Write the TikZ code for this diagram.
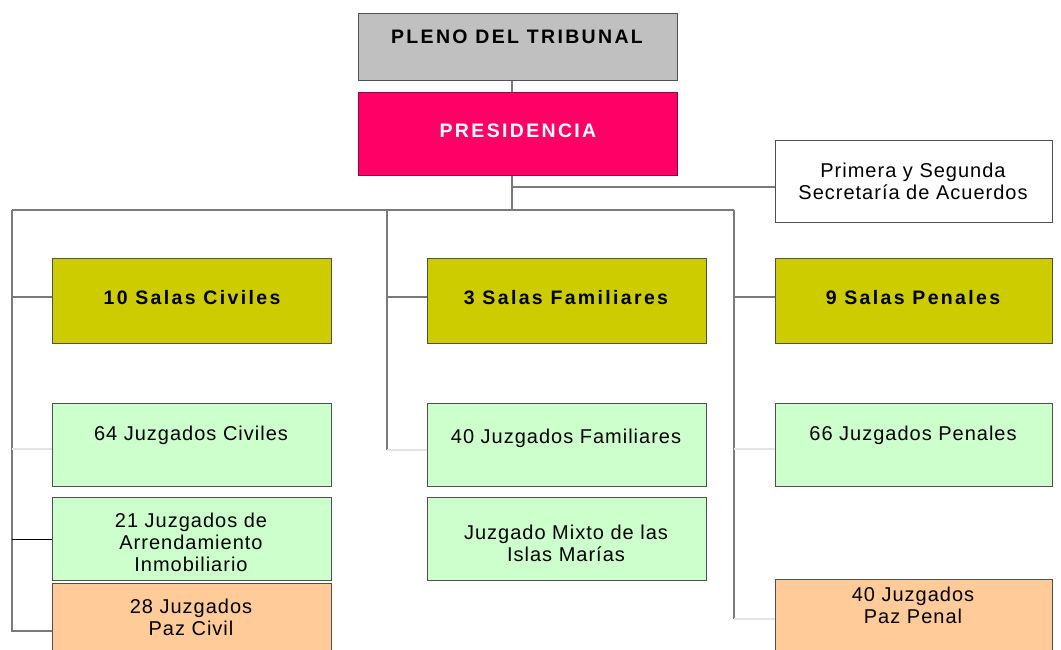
\documentclass[tikz,border=0pt]{standalone}
\usepackage{fontspec}
\setmainfont{Liberation Sans}
\newfontfamily\spb[LetterSpace=12]{Liberation Sans}
\newfontfamily\spr[LetterSpace=5]{Liberation Sans}
\definecolor{plenogray}{HTML}{C0C0C0}
\definecolor{prespink}{HTML}{FF0066}
\definecolor{salaolive}{HTML}{CCCC00}
\definecolor{juzgreen}{HTML}{CCFFCC}
\definecolor{pazpeach}{HTML}{FFCC99}
\definecolor{bordergray}{HTML}{505050}
\definecolor{conngray}{HTML}{7A7A7A}
\definecolor{faintgray}{HTML}{E4E4E4}
\begin{document}
\begin{tikzpicture}[x=1pt,y=-1pt,
  box/.style={draw=bordergray, line width=1.2pt, anchor=north west, inner sep=0pt},
  bt/.style={font=\spb\bfseries\fontsize{19.5}{22}\selectfont, inner sep=0pt, align=center},
  rt/.style={font=\spr\fontsize{20}{22}\selectfont, inner sep=0pt, align=center},
  conn/.style={draw=conngray, line width=1.2pt},
  faint/.style={draw=faintgray, line width=1.2pt},
  blk/.style={draw=black, line width=1.2pt}]
\useasboundingbox (0,0) rectangle (1061,650);
% boxes
\node[box, fill=plenogray, minimum width=319pt, minimum height=67pt] (pleno) at (358,13) {};
\node[box, fill=prespink, draw=prespink!60!black, minimum width=319pt, minimum height=83pt] (pres) at (358,92) {};
\node[box, fill=white, minimum width=277pt, minimum height=82pt] (secr) at (775,140) {};
\node[box, fill=salaolive, minimum width=279pt, minimum height=85pt] (sciv) at (52,258) {};
\node[box, fill=salaolive, minimum width=279pt, minimum height=85pt] (sfam) at (427,258) {};
\node[box, fill=salaolive, minimum width=277pt, minimum height=85pt] (spen) at (775,258) {};
\node[box, fill=juzgreen, minimum width=279pt, minimum height=83pt] (jciv) at (52,403) {};
\node[box, fill=juzgreen, minimum width=279pt, minimum height=83pt] (jarr) at (52,497) {};
\node[box, fill=pazpeach, minimum width=279pt, minimum height=80pt] (jpc) at (52,583) {};
\node[box, fill=juzgreen, minimum width=279pt, minimum height=83pt] (jfam) at (427,403) {};
\node[box, fill=juzgreen, minimum width=279pt, minimum height=83pt] (jmix) at (427,497) {};
\node[box, fill=juzgreen, minimum width=277pt, minimum height=83pt] (jpen) at (775,403) {};
\node[box, fill=pazpeach, minimum width=277pt, minimum height=80pt] (jpp) at (775,579) {};
% texts
\node[bt] (tpleno) at (517,37) {PLENO DEL TRIBUNAL};
\node[bt, text=white] (tpres) at (518,131) {PRESIDENCIA};
\node[rt] (tsecr) at (913,181.5) {Primera y Segunda\\Secretaría de Acuerdos};
\node[bt] (tsciv) at (192,298) {10 Salas Civiles};
\node[bt] (tsfam) at (566,298) {3 Salas Familiares};
\node[bt] (tspen) at (913,298) {9 Salas Penales};
\node[rt] (tjciv) at (191,435) {64 Juzgados Civiles};
\node[rt] (tjarr) at (191,542) {21 Juzgados de\\Arrendamiento\\Inmobiliario};
\node[rt] (tjpc) at (191,617) {28 Juzgados\\Paz Civil};
\node[rt] (tjfam) at (566,438) {40 Juzgados Familiares};
\node[rt] (tjmix) at (566,543) {Juzgado Mixto de las\\Islas Marías};
\node[rt] (tjpen) at (913,435) {66 Juzgados Penales};
\node[rt] (tjpp) at (913,605) {40 Juzgados\\Paz Penal};
% coordinates
\coordinate (trunk) at (512,210);
\coordinate (sb) at (512,187);
\coordinate (busL) at (12,210);
\coordinate (busM) at (387,210);
\coordinate (busR) at (734,210);
\coordinate (endL) at (12,631);
\coordinate (endM) at (387,450);
\coordinate (endR) at (734,619);
\coordinate (salasY) at (0,297);
\coordinate (juzY) at (0,449);
% connectors
\draw[conn] (pleno.south -| trunk) -- (pres.north -| trunk);
\draw[conn] (pres.south -| trunk) -- (trunk);
\draw[conn] (sb) -- (sb -| secr.west);
\draw[conn] (busL) -- (busR);
\draw[conn] (busL) -- (endL) -- (endL -| jpc.west);
\draw[conn] (busM) -- (endM);
\draw[conn] (busR) -- (endR);
\draw[conn] (busL |- salasY) -- (sciv.west |- salasY);
\draw[conn] (busM |- salasY) -- (sfam.west |- salasY);
\draw[conn] (busR |- salasY) -- (spen.west |- salasY);
\draw[faint] (busL |- juzY) -- (jciv.west |- juzY);
\draw[faint] (endM) -- (endM -| jfam.west);
\draw[faint] (busR |- juzY) -- (jpen.west |- juzY);
\draw[faint] (endR) -- (endR -| jpp.west);
\draw[blk] (busL |- jarr.west) -- (jarr.west);
\end{tikzpicture}
\end{document}
